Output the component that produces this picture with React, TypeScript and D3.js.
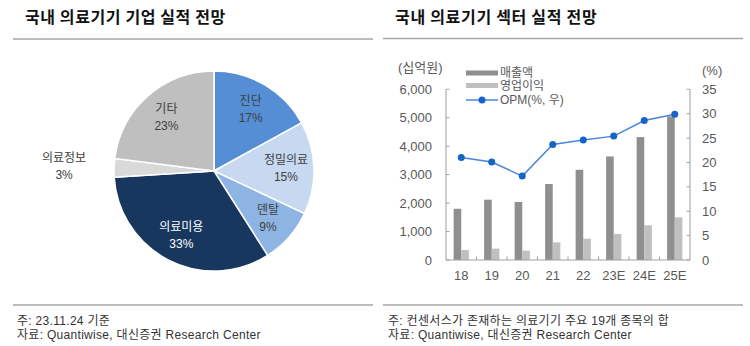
import React from "react";
import * as d3 from "d3";

const pieNames = ["진단", "정밀의료", "덴탈", "의료미용", "의료정보", "기타"];
const pieValues = [17, 15, 9, 33, 3, 23];
const pieColors = ["#558ED5", "#C6D9F1", "#8EB4E3", "#17375E", "#D9D9D9", "#BFBFBF"];
const pieLabelColors = ["#404040", "#404040", "#404040", "#FFFFFF", "#404040", "#404040"];

const years = ["18", "19", "20", "21", "22", "23E", "24E", "25E"];
const sales = [1800, 2120, 2040, 2670, 3170, 3640, 4320, 5050];
const opIncome = [350, 400, 330, 620, 750, 915, 1220, 1500];
const opm = [21.0, 20.1, 17.2, 23.7, 24.6, 25.4, 28.6, 29.9];
const leftTicks = [0, 1000, 2000, 3000, 4000, 5000, 6000];
const rightTicks = [0, 5, 10, 15, 20, 25, 30, 35];

const LBL = "'Liberation Sans', Arial, 'Noto Sans CJK KR', sans-serif";
const KR = "'Noto Sans CJK KR', 'Noto Sans', sans-serif";

export default function App() {
  // Pie
  const cx = 214, cy = 171, R = 100;
  const pie = d3.pie<number>().sort(null).value((d) => d)(pieValues);
  const arc = d3.arc<d3.PieArcDatum<number>>().innerRadius(0).outerRadius(R);
  const labelArc = d3.arc<d3.PieArcDatum<number>>().innerRadius(72).outerRadius(72);
  const outArc = d3.arc<d3.PieArcDatum<number>>().innerRadius(150).outerRadius(150);

  // Bar chart
  const x = d3.scaleBand<string>().domain(years).range([446, 690]).padding(0);
  const bw = x.bandwidth();
  const yL = d3.scaleLinear().domain([0, 6000]).range([260, 89.3]);
  const yR = d3.scaleLinear().domain([0, 35]).range([260, 89.3]);
  const fmt = d3.format(",");
  const line = d3
    .line<number>()
    .x((_, i) => (x(years[i]) as number) + bw / 2)
    .y((d) => yR(d));

  const axisColor = "#A0A0A0";
  const tickColor = "#595959";

  return (
    <svg
      width={750}
      height={346}
      style={{ position: "absolute", left: 0, top: 0, background: "#fff" }}
    >
      {/* Titles */}
      <text x={25} y={23} fontFamily={KR} fontWeight="bold" fontSize={16} letterSpacing={0.6} fill="#111">
        국내 의료기기 기업 실적 전망
      </text>
      <text x={395} y={23} fontFamily={KR} fontWeight="bold" fontSize={16} letterSpacing={0.7} fill="#111">
        국내 의료기기 섹터 실적 전망
      </text>
      <line x1={13} x2={373} y1={39} y2={39} stroke="#A6A6A6" strokeWidth={1.5} />
      <line x1={383} x2={743} y1={38.5} y2={38.5} stroke="#A6A6A6" strokeWidth={1.5} />

      {/* Pie */}
      <g transform={`translate(${cx},${cy})`}>
        {pie.map((p, i) => (
          <path key={i} d={arc(p) || ""} fill={pieColors[i]} stroke="#fff" strokeWidth={1.5} />
        ))}
        {pie.map((p, i) => {
          const [lx, ly] = i === 4 ? outArc.centroid(p) : labelArc.centroid(p);
          return (
            <g key={"l" + i} fontFamily={LBL} fontSize={12} fill={pieLabelColors[i]} textAnchor="middle">
              <text x={lx} y={ly - 8.5} dominantBaseline="central">{pieNames[i]}</text>
              <text x={lx} y={ly + 8.5} dominantBaseline="central">{pieValues[i] + "%"}</text>
            </g>
          );
        })}
      </g>

      {/* Bars */}
      {years.map((c, i) => (
        <g key={c}>
          <rect
            x={(x(c) as number) + bw * 0.25}
            y={yL(sales[i])}
            width={bw * 0.25}
            height={yL(0) - yL(sales[i])}
            fill="#8F8F8F"
          />
          <rect
            x={(x(c) as number) + bw * 0.5}
            y={yL(opIncome[i])}
            width={bw * 0.25}
            height={yL(0) - yL(opIncome[i])}
            fill="#C0C0C0"
          />
        </g>
      ))}

      {/* Axes */}
      <line x1={446} x2={446} y1={yL(6000)} y2={yL(0)} stroke={axisColor} />
      {leftTicks.map((t) => (
        <g key={"lt" + t}>
          <line x1={446} x2={449.5} y1={yL(t)} y2={yL(t)} stroke={axisColor} />
          <text x={432} y={yL(t)} textAnchor="end" dominantBaseline="central" fontFamily={LBL} fontSize={13} fill={tickColor}>
            {fmt(t)}
          </text>
        </g>
      ))}
      <line x1={690} x2={690} y1={yR(35)} y2={yR(0)} stroke={axisColor} />
      {rightTicks.map((t) => (
        <g key={"rt" + t}>
          <line x1={686.5} x2={690} y1={yR(t)} y2={yR(t)} stroke={axisColor} />
          <text x={702} y={yR(t)} textAnchor="start" dominantBaseline="central" fontFamily={LBL} fontSize={13} fill={tickColor}>
            {t}
          </text>
        </g>
      ))}
      <line x1={446} x2={690} y1={260} y2={260} stroke={axisColor} />
      {years.slice(1).map((c) => (
        <line key={"xt" + c} x1={x(c) as number} x2={x(c) as number} y1={260} y2={256.5} stroke={axisColor} />
      ))}
      {years.map((c) => (
        <text
          key={"xl" + c}
          x={(x(c) as number) + bw / 2}
          y={275}
          textAnchor="middle"
          dominantBaseline="central"
          fontFamily={LBL}
          fontSize={13}
          fill={tickColor}
        >
          {c}
        </text>
      ))}
      <text x={398} y={67} dominantBaseline="central" fontFamily={LBL} fontSize={13} fill={tickColor}>
        (십억원)
      </text>
      <text x={702} y={70} dominantBaseline="central" fontFamily={LBL} fontSize={13} fill={tickColor}>
        (%)
      </text>

      {/* OPM line */}
      <path d={line(opm) || ""} fill="none" stroke="#4A86D8" strokeWidth={1.5} />
      {opm.map((v, i) => (
        <circle key={"p" + i} cx={(x(years[i]) as number) + bw / 2} cy={yR(v)} r={3.5} fill="#1565C8" />
      ))}

      {/* Legend */}
      <rect x={466} y={70.5} width={32} height={5} fill="#8F8F8F" />
      <rect x={466} y={83} width={32} height={5} fill="#C0C0C0" />
      <line x1={466} x2={498} y1={100} y2={100} stroke="#4A86D8" strokeWidth={1.5} />
      <circle cx={482} cy={100} r={3.5} fill="#1565C8" />
      <g fontFamily={LBL} fontSize={12} fill={tickColor} dominantBaseline="central">
        <text x={500} y={72.5}>매출액</text>
        <text x={500} y={85.5}>영업이익</text>
        <text x={500} y={99.5}>OPM(%, 우)</text>
      </g>

      {/* Footers */}
      <line x1={13} x2={373} y1={305} y2={305} stroke="#A6A6A6" strokeWidth={1.5} />
      <line x1={383} x2={743} y1={305} y2={305} stroke="#A6A6A6" strokeWidth={1.5} />
      <g fontFamily={LBL} fontSize={12} letterSpacing={0.3} fill="#333">
        <text x={17} y={324.5}>주: 23.11.24 기준</text>
        <text x={17} y={339}>자료: Quantiwise, 대신증권 Research Center</text>
        <text x={388} y={324.5}>주: 컨센서스가 존재하는 의료기기 주요 19개 종목의 합</text>
        <text x={388} y={339}>자료: Quantiwise, 대신증권 Research Center</text>
      </g>
    </svg>
  );
}
